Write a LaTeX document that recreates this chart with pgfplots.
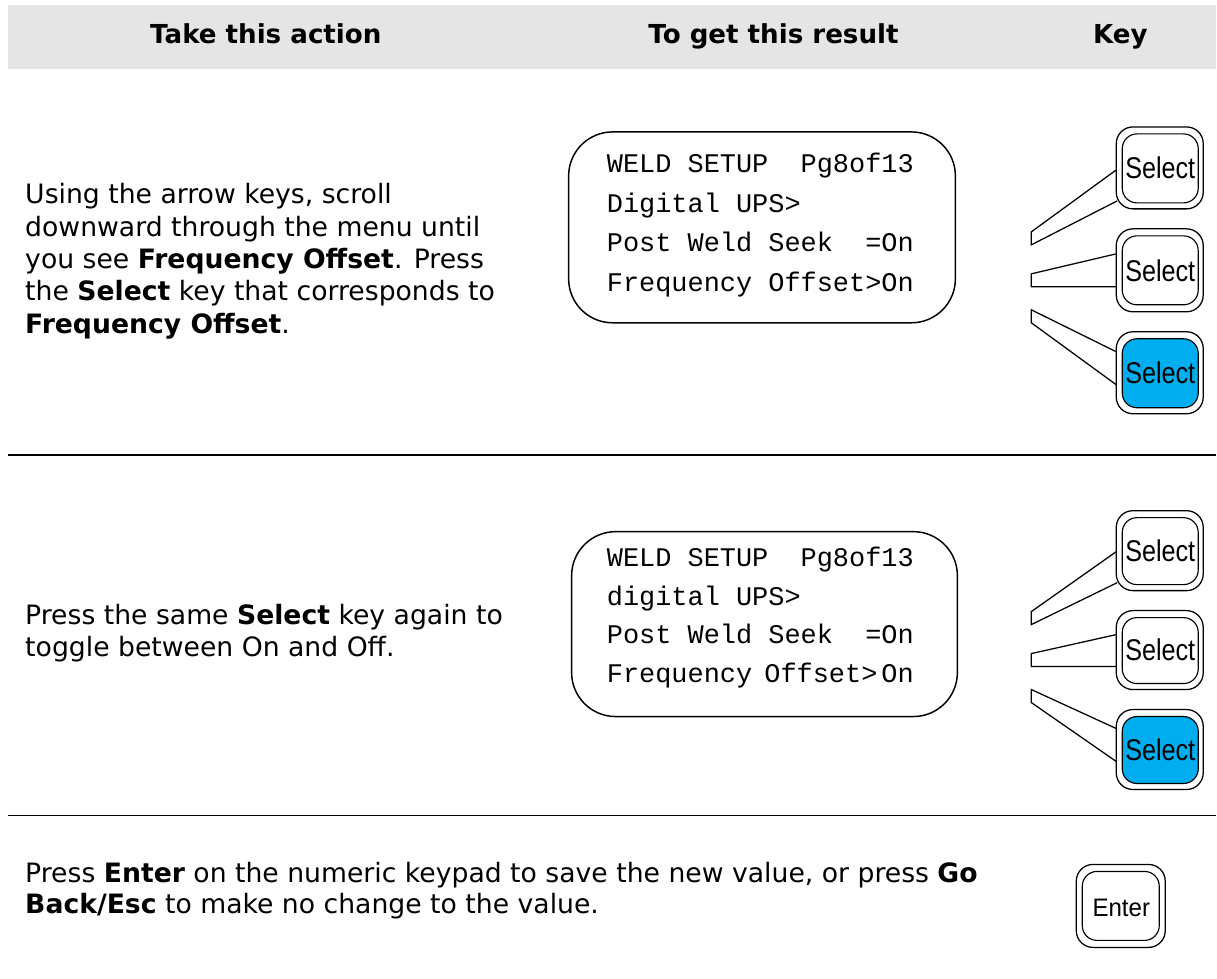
\documentclass[border=0pt]{standalone}
\usepackage{fontspec}
\setmainfont{DejaVu Sans}
\newfontfamily\mono{Liberation Mono}
\newfontfamily\keyf{Liberation Sans}
\usepackage{pgfplots}
\pgfplotsset{compat=1.18}
\definecolor{hdr}{RGB}{229,229,229}
\definecolor{keyblue}{RGB}{0,174,239}
\tikzset{
  keyo/.style={draw=black,line width=0.95pt,rounded corners=12.5pt,fill=white},
  keyi/.style={draw=black,line width=0.85pt,rounded corners=11pt},
  lead/.style={draw=black,line width=0.95pt,line join=miter},
  body/.style={anchor=base west,inner sep=0pt,font=\fontsize{20pt}{24pt}\selectfont},
  lcd/.style={anchor=base west,inner sep=0pt,font=\fontsize{20.2pt}{24pt}\selectfont\mono},
  hd/.style={anchor=base,inner sep=0pt,font=\fontsize{19.6pt}{24pt}\selectfont\bfseries},
  sel/.style={anchor=base,inner sep=0pt,font=\fontsize{22.5pt}{26pt}\selectfont\keyf,xscale=0.84},
}
\begin{document}
\begin{tikzpicture}
\begin{axis}[width=912.75pt,height=734.25pt,scale only axis,
  xmin=0,xmax=1217,ymin=0,ymax=979,y dir=reverse,hide axis,clip=false]
\path (axis cs:0,0) rectangle (axis cs:1217,979);
% header
\fill[hdr] (axis cs:8,5) rectangle (axis cs:1217,69);
\node[hd] at (axis cs:266,44) {Take this action};
\node[hd] at (axis cs:774,44) {To get this result};
\node[hd] at (axis cs:1121,44) {Key};
% rules
\draw[line width=1.2pt] (axis cs:8,455) -- (axis cs:1217,455);
\draw[line width=1.2pt] (axis cs:8,816) -- (axis cs:1217,816);
% row 1 text
\node[body] at (axis cs:25,204) {Using the arrow keys, scroll};
\node[body] at (axis cs:25,236.5) {downward through the menu until};
\node[body] at (axis cs:25,268.75) {you see \textbf{Frequency Offset}. Press};
\node[body] at (axis cs:25,301) {the \textbf{Select} key that corresponds to};
\node[body] at (axis cs:25,333.25) {\textbf{Frequency Offset}.};
% row 1 LCD
\draw[line width=1.1pt,rounded corners=33pt] (axis cs:569,132) rectangle (axis cs:956,323);
\node[lcd] at (axis cs:607,173) {WELD SETUP\ \ Pg8of13};
\node[lcd] at (axis cs:607,212.5) {Digital UPS>};
\node[lcd] at (axis cs:607,252) {Post Weld Seek\ \ =On};
\node[lcd] at (axis cs:607,291.5) {Frequency Offset>On};
% row 1 leaders
\draw[lead] (axis cs:1117,170) -- (axis cs:1032,232) -- (axis cs:1032,245) -- (axis cs:1118,201);
\draw[lead] (axis cs:1117,254) -- (axis cs:1032,274) -- (axis cs:1032,287) -- (axis cs:1117,287);
\draw[lead] (axis cs:1117,352) -- (axis cs:1032,310) -- (axis cs:1032,323) -- (axis cs:1117,385);
% row 1 keys
\draw[keyo] (axis cs:1117,127) rectangle (axis cs:1204,209);
\draw[keyi] (axis cs:1123,134) rectangle (axis cs:1199,203);
\node[sel] at (axis cs:1161,178.7) {Select};
\draw[keyo] (axis cs:1117,229) rectangle (axis cs:1204,312);
\draw[keyi] (axis cs:1123,236) rectangle (axis cs:1199,305);
\node[sel] at (axis cs:1161,281.2) {Select};
\draw[keyo] (axis cs:1117,332) rectangle (axis cs:1204,414);
\draw[keyi,fill=keyblue] (axis cs:1123,339) rectangle (axis cs:1199,408);
\node[sel] at (axis cs:1161,383.7) {Select};
% row 2 text
\node[body] at (axis cs:25,625) {Press the same \textbf{Select} key again to};
\node[body] at (axis cs:25,657.25) {toggle between On and Off.};
% row 2 LCD
\draw[line width=1.1pt,rounded corners=33pt] (axis cs:572,532) rectangle (axis cs:958,717);
\node[lcd] at (axis cs:607,567) {WELD SETUP\ \ Pg8of13};
\node[lcd] at (axis cs:607,605.5) {digital UPS>};
\node[lcd] at (axis cs:607,644) {Post Weld Seek\ \ =On};
\node[lcd] at (axis cs:607,682.5) {Frequency\hspace{-3pt} Offset>\hspace{3pt}On};
% row 2 leaders
\draw[lead] (axis cs:1117,552) -- (axis cs:1032,612) -- (axis cs:1032,625) -- (axis cs:1118,583);
\draw[lead] (axis cs:1117,635) -- (axis cs:1032,654) -- (axis cs:1032,667) -- (axis cs:1117,667);
\draw[lead] (axis cs:1117,729) -- (axis cs:1032,690) -- (axis cs:1032,703) -- (axis cs:1117,762);
% row 2 keys
\draw[keyo] (axis cs:1117,511) rectangle (axis cs:1204,591);
\draw[keyi] (axis cs:1123,518) rectangle (axis cs:1199,585);
\node[sel] at (axis cs:1161,561.7) {Select};
\draw[keyo] (axis cs:1117,611) rectangle (axis cs:1204,690);
\draw[keyi] (axis cs:1123,618) rectangle (axis cs:1199,684);
\node[sel] at (axis cs:1161,661.2) {Select};
\draw[keyo] (axis cs:1117,710) rectangle (axis cs:1204,790);
\draw[keyi,fill=keyblue] (axis cs:1123,717) rectangle (axis cs:1199,784);
\node[sel] at (axis cs:1161,760.7) {Select};
% row 3
\node[body] at (axis cs:25,883) {Press \textbf{Enter} on the numeric keypad to save the new value, or press \textbf{Go}};
\node[body] at (axis cs:25,914) {\textbf{Back/Esc} to make no change to the value.};
\draw[keyo] (axis cs:1077,865) rectangle (axis cs:1166,948);
\draw[keyi] (axis cs:1083,872) rectangle (axis cs:1160,941);
\node[anchor=base,inner sep=0pt,font=\fontsize{19pt}{22pt}\selectfont\keyf,xscale=0.95] at (axis cs:1122,917) {Enter};
\end{axis}
\end{tikzpicture}
\end{document}
